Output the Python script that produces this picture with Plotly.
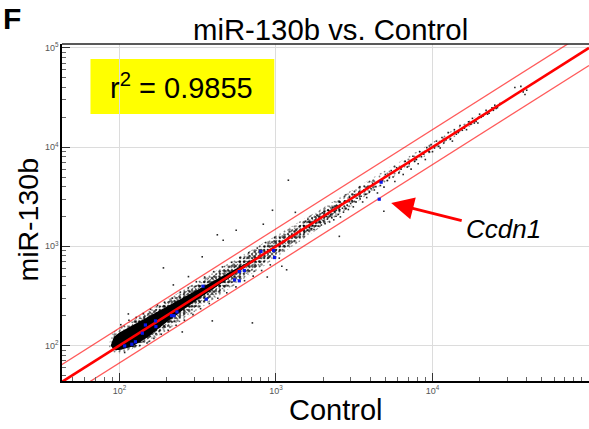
import plotly.graph_objects as go

# Dense part of the cloud, read as envelopes from the picture
core_x = [88, 92, 100, 120, 150, 200, 260, 340, 450, 600, 800]
core_up = [100, 122, 135, 158, 190, 246, 306, 388, 497, 640, 815]
core_lo = [100, 90, 90, 97, 120, 172, 234, 315, 425, 580, 785]
fuzz_x = [86, 90, 100, 150, 200, 300, 500, 800, 1200, 2000, 3000, 4200]
fuzz_up = [104, 134, 152, 218, 290, 420, 670, 1040, 1520, 2450, 3600, 4800]
fuzz_lo = [97, 85, 83, 104, 140, 218, 372, 605, 925, 1620, 2500, 3700]
mid_x = [120, 200, 300, 500, 800, 1200, 1800, 2600]
mid_up = [170, 272, 390, 625, 970, 1420, 2060, 2850]
mid_lo = [92, 152, 238, 405, 660, 1010, 1570, 2350]
thin_x = [2500, 4000, 6000, 9000, 14000, 20000]
thin_up = [3050, 4750, 6900, 10200, 15600, 21500]
thin_lo = [2150, 3500, 5350, 8100, 12800, 19000]

# Sparser points along the diagonal
speck_x = [1500, 1520, 1550, 1580, 1600, 1630, 1650, 1680, 1700, 1720, 1750, 1780, 1800, 1830, 1860, 1890, 1920, 1950, 1980, 2000,
           2030, 2060, 2100, 2130, 2160, 2200, 2230, 2270, 2300, 2340, 2380, 2420, 2460, 2500, 2540, 2580, 2620, 2660, 2700, 2750,
           2800, 2850, 2900, 2950, 3000, 3060, 3120, 3180, 3250, 3300, 3380, 3450, 3500, 3580, 3650, 3720, 3800, 3880, 3950, 4050,
           4150, 4250, 4350, 4450, 4550, 4650, 4800, 4900, 5000, 5150, 5300, 5450, 5600, 5750, 5900, 6100, 6300, 6500, 6700, 6900,
           7100, 7300, 7500, 7700, 7900, 8100, 8300, 8500, 8800, 9000, 9200, 9500, 9800, 10000, 10300, 10600, 10900, 11200, 11500, 11800,
           12200, 12600, 13000, 13400, 13800, 14200, 14600, 15000, 15500, 16000, 16500, 17000, 17500, 18000, 18500, 19000, 19500, 20000, 20500, 21000,
           22000, 22500, 23000, 24000, 24500, 25000, 25500, 26000, 27000, 33600, 36700, 39000, 40000, 38000]
speck_y = [1620, 1380, 1790, 1450, 1870, 1560, 1740, 1510, 1930, 1630, 1480, 1840, 1700, 2050, 1600, 1950, 1720, 1640, 2180, 1820,
           2240, 1690, 2000, 1880, 2310, 1760, 2080, 1950, 2450, 1850, 2220, 2010, 2560, 2100, 2330, 1980, 2700, 2420, 2210, 2860,
           2400, 2600, 2350, 3100, 2700, 2900, 2500, 3300, 2800, 3050, 3500, 3000, 3200, 2800, 3700, 3350, 3100, 4000, 3500, 3800,
           4300, 3700, 4000, 3450, 4500, 4100, 4600, 3950, 5300, 4600, 4900, 5800, 5000, 4500, 6200, 5500, 6000, 5300, 7200, 6300,
           6800, 6000, 8100, 7200, 7500, 6800, 9000, 8000, 8500, 7500, 9900, 9000, 10600, 9000, 9800, 11500, 10200, 9800, 12500, 11000,
           11800, 14000, 12000, 11500, 15000, 13500, 14000, 16500, 14800, 15500, 15000, 18000, 17000, 19500, 17500, 18200, 17500, 21500, 20000, 20500,
           23500, 21500, 22000, 25000, 23500, 26500, 24500, 25000, 27500, 40000, 41000, 34000, 37500, 36000]

# Points at the fringe of the dense band
edge_x = [102, 108, 115, 122, 128, 135, 142, 150, 158, 166, 175, 185, 195, 205, 218, 230, 245, 260, 275, 295,
          310, 330, 350, 375, 400, 425, 455, 485, 520, 555, 590, 630, 670, 715, 760, 810, 860, 920, 980, 1050]
edge_y = [162, 85, 180, 98, 192, 100, 210, 106, 232, 118, 255, 130, 270, 142, 300, 160, 345, 180, 380, 205,
          440, 235, 490, 265, 555, 300, 620, 340, 690, 390, 770, 450, 860, 500, 960, 570, 1090, 650, 1220, 760]

# Isolated points away from the band
stray_x = [1200, 950, 1330, 191, 338, 707, 392, 252, 422, 460, 557, 114, 221, 276, 880, 1090, 1170, 830, 2540, 4890]
stray_y = [4640, 2310, 2200, 606, 784, 169, 177, 137, 1306, 1150, 1450, 208, 408, 495, 490, 630, 580, 1670, 1260, 2260]

# Blue highlighted points
blue_x = [108, 120, 126.5, 140, 146.5, 170, 171, 215, 223, 233, 342, 359, 544, 583, 583, 628, 802, 966, 980, 4700, 4570]
blue_y = [99, 103, 109, 133, 161, 177, 155, 200, 200, 218, 396, 293, 459, 449, 556, 570, 886, 907, 771, 4430, 2985]

# Fold-change guide lines
guide_x = [40, 100000]
guide_mid = [40, 100000]
guide_up = [60, 150000]
guide_lo = [26.7, 66667]

# Ticks
major_ticks = [100, 1000, 10000, 100000]
major_labels = ["10<sup>2</sup>", "10<sup>3</sup>", "10<sup>4</sup>", "10<sup>5</sup>"]
minor_ticks = [m * 10 ** e for e in (1, 2, 3, 4) for m in (2, 3, 4, 5, 6, 7, 8, 9)]

title_text = "miR-130b vs. Control"
x_title = "Control"
y_title = "miR-130b"
r2_text = "r<sup>2</sup> = 0.9855"
gene_text = "<i>Ccdn1</i>"
panel_text = "<b>F</b>"

FONT = "Liberation Sans, Arial, sans-serif"
W, H = 589, 429
L, R, T, B = 61.5, 589, 44, 381


def px(x):
    return (x - L) / (R - L)


def py(y):
    return (B - y) / (B - T)


fig = go.Figure()


def band(xs, up, lo, size, solidity):
    fig.add_trace(go.Scatter(x=xs + xs[::-1], y=up + lo[::-1], mode="lines", fill="toself",
                             fillpattern=dict(shape=".", size=size, solidity=solidity, fgcolor="#000000", bgcolor="rgba(255,255,255,0)"),
                             fillcolor="rgba(0,0,0,0)", line=dict(width=0), hoverinfo="skip", showlegend=False))


# overlaid dot screens of unequal pitch give an irregular stipple
band(thin_x, thin_up, thin_lo, 5, 0.10)
band(thin_x, thin_up, thin_lo, 7, 0.08)
band(fuzz_x, fuzz_up, fuzz_lo, 4, 0.14)
band(fuzz_x, fuzz_up, fuzz_lo, 5, 0.12)
band(fuzz_x, fuzz_up, fuzz_lo, 7, 0.10)
band(mid_x, mid_up, mid_lo, 3, 0.26)
band(mid_x, mid_up, mid_lo, 4, 0.26)
band(mid_x, mid_up, mid_lo, 5, 0.24)
fig.add_trace(go.Scatter(x=speck_x + edge_x + stray_x, y=speck_y + edge_y + stray_y, mode="markers", showlegend=False,
                         marker=dict(symbol="square", size=1.6, color="rgba(0,0,0,0.85)", line=dict(width=0))))
fig.add_trace(go.Scatter(x=core_x + core_x[::-1], y=core_up + core_lo[::-1], mode="lines", fill="toself",
                         fillcolor="#000000", line=dict(width=0), hoverinfo="skip", showlegend=False))
for ys, w, c in [(guide_up, 1.3, "rgba(255,0,0,0.65)"), (guide_lo, 1.3, "rgba(255,0,0,0.65)"), (guide_mid, 2.6, "#ff0000")]:
    fig.add_trace(go.Scatter(x=guide_x, y=ys, mode="lines", showlegend=False, line=dict(color=c, width=w)))
fig.add_trace(go.Scatter(x=blue_x, y=blue_y, mode="markers", showlegend=False,
                         marker=dict(symbol="square", size=3.2, color="#0a18e8", line=dict(width=0))))

axis_common = dict(
    type="log", tickmode="array", tickvals=major_ticks, ticktext=major_labels, showgrid=True, gridcolor="#dcdcdc", gridwidth=1,
    ticks="inside", ticklen=8, tickwidth=1, tickcolor="#333333",
    tickfont=dict(family=FONT, size=9, color="#555555"), showline=True, linecolor="#000000", linewidth=1.5,
    zeroline=False, title=None,
    minor=dict(tickmode="array", tickvals=minor_ticks, ticks="inside", ticklen=4, tickwidth=1, tickcolor="#666666", showgrid=False),
)
fig.update_xaxes(range=[1.633, 5.0], **axis_common)
fig.update_yaxes(range=[1.642, 5.04], **axis_common)

annots = [
    dict(text=title_text, x=px(330), y=py(30), font=dict(size=29.3)),
    dict(text=x_title, x=px(336), y=py(410), font=dict(size=29)),
    dict(text=y_title, x=px(27), y=py(220), font=dict(size=28.5), textangle=-90),
    dict(text=r2_text, x=px(181), y=py(86), font=dict(size=29)),
    dict(text=gene_text, x=px(503), y=py(229), font=dict(size=26)),
    dict(text=panel_text, x=px(11), y=py(19), font=dict(size=30)),
]
for a in annots:
    a.update(xref="paper", yref="paper", showarrow=False, xanchor="center", yanchor="middle")
    a["font"] = dict(family=FONT, color="#000000", **a["font"])
annots.append(dict(xref="paper", yref="paper", axref="pixel", ayref="pixel", x=px(391), y=py(203),
                   ax=72, ay=18, text="", showarrow=True, arrowhead=2, arrowsize=1.5, arrowwidth=3, arrowcolor="#ff0000"))

fig.update_layout(
    width=W, height=H, autosize=False, paper_bgcolor="#ffffff", plot_bgcolor="#ffffff", showlegend=False,
    margin=dict(l=L, r=W - R, t=T, b=H - B, pad=0), annotations=annots,
    shapes=[
        dict(type="rect", xref="paper", yref="paper", x0=px(90), x1=px(274), y0=py(114), y1=py(59),
             fillcolor="#ffff00", line=dict(width=0), layer="below"),
        dict(type="line", xref="paper", yref="paper", x0=0, x1=1, y0=1, y1=1, line=dict(color="#222222", width=1.5)),
    ],
)
fig.write_html("out.html", config=dict(displayModeBar=False), post_script="document.body.style.margin='0';document.documentElement.style.overflow='hidden';")
